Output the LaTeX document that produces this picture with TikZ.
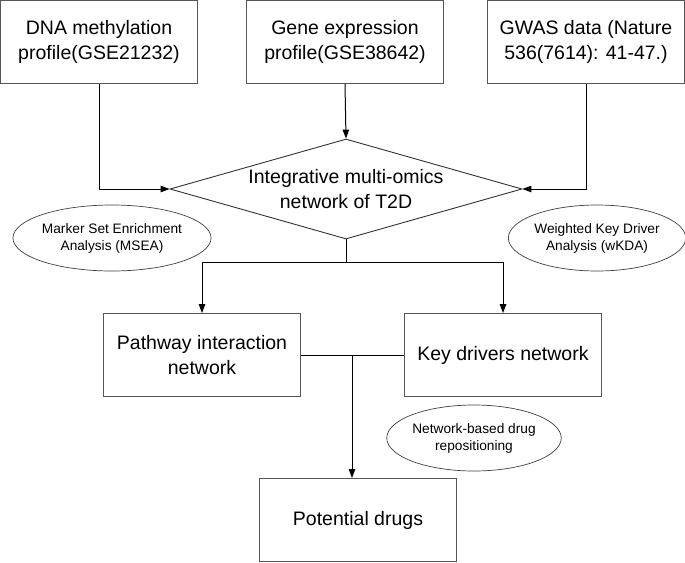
\documentclass[tikz,border=0pt]{standalone}
\usepackage{fontspec}
\setmainfont{Liberation Sans}
\usepackage{tikz}
\usetikzlibrary{shapes.geometric, arrows.meta, positioning, calc}
\definecolor{boxgray}{HTML}{555555}
\tikzset{
  datbox/.style={rectangle, draw=boxgray, line width=0.9pt, fill=white,
    font=\fontsize{19.5}{25}\selectfont, minimum width=197pt, minimum height=83pt,
    align=center, inner sep=2pt},
  hub/.style={diamond, aspect=3.52, draw=black!80, line width=0.9pt, fill=white,
    font=\fontsize{19.5}{25}\selectfont, minimum width=352pt, minimum height=100pt,
    align=center, inner sep=0pt},
  meth/.style={ellipse, draw=black!75, line width=0.7pt, fill=white,
    font=\fontsize{13.7}{17}\selectfont, minimum width=171pt, minimum height=66pt,
    align=center, inner sep=0pt},
  ar/.style={-{Triangle[length=9pt,width=6.5pt]}, draw=black, line width=1pt},
  ln/.style={draw=black, line width=1pt},
}

\begin{document}
\begin{tikzpicture}[x=1pt, y=-1pt]
\useasboundingbox (0,0) rectangle (685,562);

% input data
\node[datbox] (DM) at (99,42)  {DNA methylation\\profile(GSE21232)};
\node[datbox] (GE) at (345,42) {Gene expression\\profile(GSE38642)};
\node[datbox] (GW) at (586,42) {GWAS data (Nature\\536(7614): 41-47.)};

\node[hub] (NT) at (346,189) {Integrative multi-omics\\network of T2D};

\node[meth] (MS) at (112,238) {Marker Set Enrichment\\Analysis (MSEA)};
\node[meth] (WK) at (597,238) {Weighted Key Driver\\Analysis (wKDA)};

% networks
\node[datbox] (PW) at (202,355) {Pathway interaction\\network};
\node[datbox] (KD) at (503,355) {Key drivers network};

\node[meth] (NB) at (474,438) {Network-based drug\\repositioning};

\node[datbox] (PD) at (358,520) {Potential drugs};

\coordinate (J1) at (346,262);
\coordinate (J2) at (352,355);

\draw[ar] (DM.south) |- (NT.west);
\draw[ar] (GE.south) -- (NT.north);
\draw[ar] (GW.south) |- (NT.east);

\draw[ln] (NT.south) -- (J1);
\draw[ar] (J1) -| (PW.north);
\draw[ar] (J1) -| (KD.north);

\draw[ln] (PW.east) -- (KD.west);
\draw[ar] (J2) -- (J2 |- PD.north);

\end{tikzpicture}
\end{document}
